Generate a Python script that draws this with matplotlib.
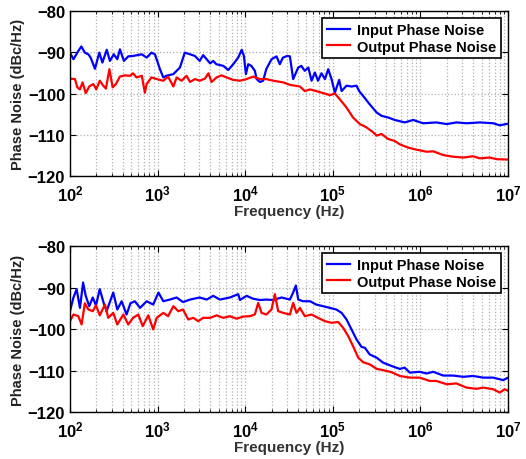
"""Input/output phase noise comparison, two measurement sets."""

import numpy as np
import matplotlib.pyplot as plt
from matplotlib.ticker import LogLocator, NullFormatter

# top panel: log10(frequency) and phase noise (dBc/Hz)
top_in_logf = [2.0, 2.04, 2.095, 2.13, 2.17, 2.21, 2.236, 2.285, 2.335, 2.37, 2.42, 2.456, 2.50,
               2.54, 2.57, 2.616, 2.665, 2.72, 2.82, 2.875, 2.93, 2.97, 3.027, 3.065, 3.10, 3.18,
               3.255, 3.31, 3.37, 3.426, 3.48, 3.52, 3.56, 3.60, 3.635, 3.67, 3.75, 3.806, 3.863,
               3.92, 3.96, 3.985, 4.008, 4.034, 4.07, 4.11, 4.13, 4.167, 4.205, 4.24, 4.30, 4.357,
               4.395, 4.43, 4.48, 4.51, 4.547, 4.605, 4.64, 4.68, 4.72, 4.757, 4.795, 4.83, 4.87,
               4.91, 4.947, 4.985, 5.023, 5.072, 5.10, 5.156, 5.213, 5.27, 5.30, 5.346, 5.42, 5.50,
               5.555, 5.63, 5.707, 5.82, 5.916, 6.03, 6.18, 6.30, 6.41, 6.525, 6.68, 6.83, 6.905, 7.0]
top_in_db = [-90.1, -91.7, -89.7, -88.6, -90.1, -90.5, -91.3, -94.0, -90.1, -92.5, -89.4, -92.1,
             -90.5, -91.7, -89.3, -92.1, -91.0, -90.9, -90.5, -91.3, -90.1, -90.5, -94.1, -96.1,
             -95.7, -95.3, -93.7, -90.1, -90.5, -90.9, -92.1, -90.7, -91.7, -92.7, -92.1, -92.9,
             -93.3, -94.3, -92.9, -91.3, -89.4, -90.9, -95.3, -92.9, -93.3, -94.5, -96.5, -97.2,
             -96.9, -94.1, -91.7, -91.0, -92.9, -91.3, -90.9, -91.0, -96.5, -93.7, -93.3, -94.5,
             -93.7, -96.9, -94.9, -96.9, -95.1, -96.5, -94.1, -96.5, -99.8, -96.7, -99.4, -98.1,
             -98.3, -98.1, -99.4, -100.6, -102.6, -104.6, -105.4, -105.8, -106.4, -107.0, -106.4,
             -107.2, -107.0, -107.4, -107.0, -107.2, -107.0, -107.2, -107.7, -107.3]

top_out_logf = [2.0, 2.057, 2.084, 2.114, 2.144, 2.18, 2.22, 2.266, 2.30, 2.34, 2.38, 2.41, 2.45,
                2.487, 2.525, 2.57, 2.627, 2.684, 2.72, 2.76, 2.82, 2.855, 2.875, 2.93, 2.99, 3.065,
                3.12, 3.18, 3.217, 3.274, 3.33, 3.37, 3.426, 3.48, 3.54, 3.58, 3.616, 3.673, 3.73,
                3.787, 3.863, 3.94, 4.015, 4.09, 4.167, 4.24, 4.32, 4.433, 4.51, 4.624, 4.68, 4.74,
                4.81, 4.89, 4.966, 5.023, 5.08, 5.156, 5.23, 5.308, 5.384, 5.46, 5.50, 5.555, 5.63,
                5.707, 5.764, 5.86, 5.954, 6.07, 6.145, 6.26, 6.37, 6.487, 6.60, 6.677, 6.79, 6.867,
                7.0]
top_out_db = [-96.4, -96.5, -98.5, -99.0, -97.3, -99.9, -98.3, -97.7, -99.0, -96.9, -98.1, -98.8,
              -94.1, -98.5, -97.7, -95.9, -95.6, -95.7, -95.1, -96.1, -95.7, -99.8, -97.7, -96.1,
              -96.5, -96.9, -95.9, -98.3, -96.1, -96.9, -95.7, -97.2, -96.5, -96.9, -96.4, -95.1,
              -97.2, -96.1, -95.6, -96.1, -96.7, -96.9, -96.5, -95.9, -96.5, -96.5, -96.9, -97.3,
              -97.9, -98.3, -99.4, -99.0, -99.4, -99.9, -100.4, -100.0, -101.4, -103.4, -105.8,
              -107.4, -108.2, -109.4, -110.2, -109.8, -111.0, -111.5, -112.3, -113.1, -113.6,
              -114.1, -114.0, -114.9, -115.3, -115.5, -115.2, -115.7, -115.5, -115.9, -116.0]

# bottom panel
bot_in_logf = [2.0, 2.04, 2.076, 2.114, 2.15, 2.18, 2.22, 2.26, 2.297, 2.34, 2.39, 2.418, 2.494,
               2.54, 2.59, 2.646, 2.69, 2.74, 2.80, 2.875, 2.95, 3.01, 3.065, 3.14, 3.217, 3.29,
               3.37, 3.48, 3.56, 3.635, 3.71, 3.825, 3.92, 3.94, 4.015, 4.09, 4.167, 4.24, 4.32,
               4.414, 4.51, 4.547, 4.578, 4.605, 4.66, 4.74, 4.81, 4.89, 4.966, 5.04, 5.10, 5.156,
               5.213, 5.27, 5.327, 5.365, 5.42, 5.50, 5.574, 5.67, 5.764, 5.82, 5.878, 5.99, 6.07,
               6.145, 6.26, 6.37, 6.487, 6.60, 6.715, 6.83, 6.943, 7.0]
bot_in_db = [-95.7, -92.4, -90.4, -94.9, -88.8, -92.0, -94.5, -92.4, -94.3, -90.4, -94.1, -95.7,
             -91.2, -95.3, -93.3, -96.5, -93.8, -93.3, -94.9, -93.3, -94.1, -91.2, -93.3, -92.9,
             -92.4, -93.5, -92.9, -92.4, -92.9, -92.0, -92.9, -92.4, -91.6, -93.0, -92.0, -92.7,
             -93.0, -92.9, -93.0, -92.4, -92.9, -91.2, -89.5, -92.9, -93.3, -93.3, -94.1, -94.5,
             -94.9, -95.3, -96.1, -97.7, -100.1, -102.5, -104.3, -104.5, -106.1, -106.9, -108.1,
             -108.9, -109.6, -109.3, -110.5, -110.3, -110.7, -110.3, -111.2, -111.2, -111.5,
             -111.3, -111.7, -111.7, -112.3, -111.7]

bot_out_logf = [2.0, 2.04, 2.095, 2.133, 2.17, 2.21, 2.26, 2.297, 2.34, 2.40, 2.437, 2.494, 2.54,
                2.61, 2.665, 2.72, 2.78, 2.83, 2.894, 2.95, 2.99, 3.065, 3.12, 3.18, 3.236, 3.29,
                3.35, 3.407, 3.464, 3.52, 3.60, 3.673, 3.75, 3.825, 3.90, 3.977, 4.053, 4.11,
                4.148, 4.186, 4.24, 4.30, 4.338, 4.376, 4.433, 4.51, 4.547, 4.585, 4.624, 4.68,
                4.757, 4.83, 4.91, 4.985, 5.06, 5.118, 5.175, 5.23, 5.29, 5.346, 5.42, 5.50, 5.574,
                5.67, 5.764, 5.878, 5.99, 6.106, 6.18, 6.30, 6.41, 6.525, 6.64, 6.715, 6.83, 6.905,
                6.96, 7.0]
bot_out_db = [-98.1, -96.5, -96.9, -98.9, -93.8, -95.3, -95.7, -94.3, -96.7, -94.1, -97.3, -96.1,
              -98.9, -96.5, -98.9, -97.3, -96.5, -99.3, -96.7, -100.1, -97.3, -96.1, -96.9, -94.5,
              -95.7, -95.3, -97.7, -97.3, -98.1, -97.3, -97.3, -96.7, -97.3, -96.9, -97.5, -97.0,
              -96.9, -96.5, -93.7, -96.1, -96.5, -95.3, -91.6, -95.7, -96.1, -96.5, -93.7, -96.1,
              -94.9, -96.9, -96.5, -97.3, -98.1, -98.5, -98.3, -99.7, -101.7, -104.1, -106.9,
              -108.0, -108.5, -109.6, -109.9, -110.4, -111.3, -111.7, -111.7, -112.5, -112.5,
              -113.3, -113.1, -114.1, -114.4, -114.1, -114.5, -115.3, -114.5, -114.9]

panels = [
    (top_in_logf, top_in_db, top_out_logf, top_out_db),
    (bot_in_logf, bot_in_db, bot_out_logf, bot_out_db),
]

plt.rcParams["font.family"] = ["Liberation Sans", "DejaVu Sans"]
plt.rcParams["font.weight"] = "bold"

fig = plt.figure(figsize=(5.26, 4.6), dpi=100)
rects = [[0.133, 0.615, 0.833, 0.359], [0.133, 0.102, 0.833, 0.361]]

for rect, (in_f, in_db, out_f, out_db) in zip(rects, panels):
    ax = fig.add_axes(rect)
    ax.semilogx(10 ** np.array(in_f), in_db, color="#0000ff", lw=1.6, label="Input Phase Noise")
    ax.semilogx(10 ** np.array(out_f), out_db, color="#ff0000", lw=1.6, label="Output Phase Noise")
    ax.set_xlim(1e2, 1e7)
    ax.set_ylim(-120, -80)
    ax.set_yticks([-120, -110, -100, -90, -80])
    ax.xaxis.set_minor_locator(LogLocator(base=10, subs=np.arange(2, 10)))
    ax.xaxis.set_minor_formatter(NullFormatter())
    ax.grid(True, which="major", color="#b0b0b0", ls=":", lw=0.9)
    ax.grid(True, which="minor", axis="x", color="#b0b0b0", ls=":", lw=0.9)
    ax.tick_params(which="both", direction="in", top=True, right=True, labelsize=12)
    ax.tick_params(axis="x", which="major", pad=5)
    ax.tick_params(which="major", length=4)
    ax.tick_params(which="minor", length=2)
    for s in ax.spines.values():
        s.set_linewidth(1.0)
    ax.set_xlabel("Frequency (Hz)", fontsize=11, fontweight="bold", color="#333333", labelpad=1)
    ax.set_ylabel("Phase Noise (dBc/Hz)", fontsize=10.5, fontweight="bold", color="#222222",
                  labelpad=2)
    leg = ax.legend(loc="upper right", fontsize=10.5, fancybox=False, framealpha=1,
                    edgecolor="black", handlelength=1.6, handletextpad=0.5, borderaxespad=0.5,
                    labelspacing=0.2, borderpad=0.3)
    leg.get_frame().set_linewidth(1.2)
    for t in leg.get_texts():
        t.set_fontweight("bold")

plt.savefig("out.png", dpi=100)
